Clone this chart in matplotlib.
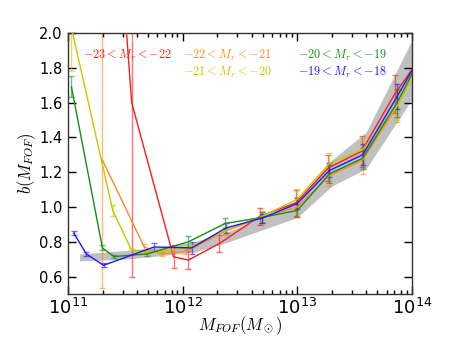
import numpy as np
import matplotlib
matplotlib.use("Agg")
import matplotlib.pyplot as plt

plt.rcParams['mathtext.fontset'] = 'cm'

# gray band (log10 mass, lower, upper)
band_x = [11.1, 11.5, 11.8, 12.1, 12.4, 12.7, 13.0, 13.3, 13.6, 14.0]
band_lo = [0.69, 0.70, 0.72, 0.74, 0.80, 0.87, 0.94, 1.12, 1.22, 1.62]
band_hi = [0.73, 0.75, 0.77, 0.80, 0.86, 0.94, 1.04, 1.27, 1.43, 1.96]

# -23 < Mr < -22
red_x = [11.40, 11.555, 11.92, 12.05, 12.32, 12.67, 12.99, 13.27, 13.56, 13.85, 14.15]
red_b = [3.00, 1.60, 0.714, 0.695, 0.79, 0.945, 1.025, 1.225, 1.32, 1.65, 1.93]
red_e = [0.5, 1.00, 0.065, 0.05, 0.048, 0.05, 0.075, 0.075, 0.09, 0.11, 0.12]

# -22 < Mr < -21
orange_x = [11.30, 11.665, 11.82, 12.03, 12.37, 12.69, 13.0, 13.28, 13.57, 13.87, 14.17]
orange_b = [1.27, 0.77, 0.73, 0.745, 0.86, 0.94, 1.0, 1.18, 1.27, 1.58, 1.96]
orange_e = [0.735, 0.02, 0.01, 0.015, 0.02, 0.03, 0.06, 0.06, 0.08, 0.09, 0.1]

# -21 < Mr < -20
yellow_x = [11.03, 11.39, 11.55, 11.69, 11.82, 12.05, 12.37, 12.69, 13.0, 13.28, 13.57, 13.87, 14.17]
yellow_b = [2.03, 0.98, 0.757, 0.74, 0.745, 0.765, 0.865, 0.945, 1.045, 1.25, 1.33, 1.58, 1.96]
yellow_e = [0.25, 0.03, 0.01, 0.01, 0.01, 0.015, 0.02, 0.03, 0.06, 0.06, 0.07, 0.08, 0.1]

# -20 < Mr < -19
green_x = [11.03, 11.30, 11.40, 11.69, 12.05, 12.37, 12.69, 13.0, 13.28, 13.57, 13.87, 14.17]
green_b = [1.69, 0.765, 0.715, 0.73, 0.80, 0.905, 0.94, 0.98, 1.19, 1.28, 1.60, 1.98]
green_e = [0.06, 0.015, 0.01, 0.012, 0.035, 0.03, 0.03, 0.04, 0.05, 0.06, 0.08, 0.1]

# -19 < Mr < -18
blue_x = [11.05, 11.16, 11.31, 11.75, 12.08, 12.38, 12.69, 13.0, 13.28, 13.57, 13.87, 14.17]
blue_b = [0.85, 0.73, 0.665, 0.77, 0.765, 0.88, 0.935, 1.02, 1.21, 1.30, 1.635, 1.98]
blue_e = [0.01, 0.01, 0.012, 0.025, 0.035, 0.03, 0.025, 0.03, 0.04, 0.06, 0.07, 0.1]

labels = [r'$-23<M_r<-22$', r'$-22<M_r<-21$', r'$-21<M_r<-20$',
          r'$-20<M_r<-19$', r'$-19<M_r<-18$']
colors = ['#ff1a1a', '#ff8c1a', '#c8c800', '#1a8c1a', '#1a1aff']
label_pos = [(0.045, 0.915), (0.335, 0.915), (0.335, 0.85), (0.668, 0.915), (0.668, 0.85)]

fig = plt.figure(figsize=(4.58, 3.43), dpi=100)
ax = fig.add_axes([0.1485, 0.1429, 0.7511, 0.7609])

ax.fill_between(10**np.array(band_x), band_lo, band_hi, color='#c0c0c0', lw=0, zorder=1)

series = [(red_x, red_b, red_e), (orange_x, orange_b, orange_e),
          (yellow_x, yellow_b, yellow_e), (green_x, green_b, green_e),
          (blue_x, blue_b, blue_e)]
for (x, b, e), c in zip(series, colors):
    m = 10**np.array(x)
    ax.errorbar(m, b, yerr=e, fmt='none', ecolor=c, elinewidth=1, capsize=2.5,
                alpha=0.6, zorder=2)
    ax.plot(m, b, color=c, lw=1, zorder=3)

for lab, c, (tx, ty) in zip(labels, colors, label_pos):
    ax.text(tx, ty, lab, color=c, fontsize=8.8, transform=ax.transAxes,
            ha='left', va='center')

ax.set_xscale('log')
ax.set_xlim(1e11, 1e14)
ax.set_ylim(0.5, 2.0)
ax.set_yticks([0.6, 0.8, 1.0, 1.2, 1.4, 1.6, 1.8, 2.0])
ax.set_yticklabels(['0.6', '0.8', '1.0', '1.2', '1.4', '1.6', '1.8', '2.0'])
ax.tick_params(which='both', direction='in', top=True, right=True)
ax.tick_params(which='major', length=6, width=1)
ax.tick_params(which='minor', length=3, width=1)
ax.tick_params(axis='x', labelsize=13, pad=3)
ax.tick_params(axis='y', labelsize=10.5, pad=4)
for s in ax.spines.values():
    s.set_linewidth(1)
    s.set_color('#333333')

ax.set_xlabel(r'$M_{FOF}(M_\odot)$', fontsize=12, labelpad=-3)
ax.set_ylabel(r'$b(M_{FOF})$', fontsize=12, labelpad=1)

fig.savefig('out.png', dpi=100)
